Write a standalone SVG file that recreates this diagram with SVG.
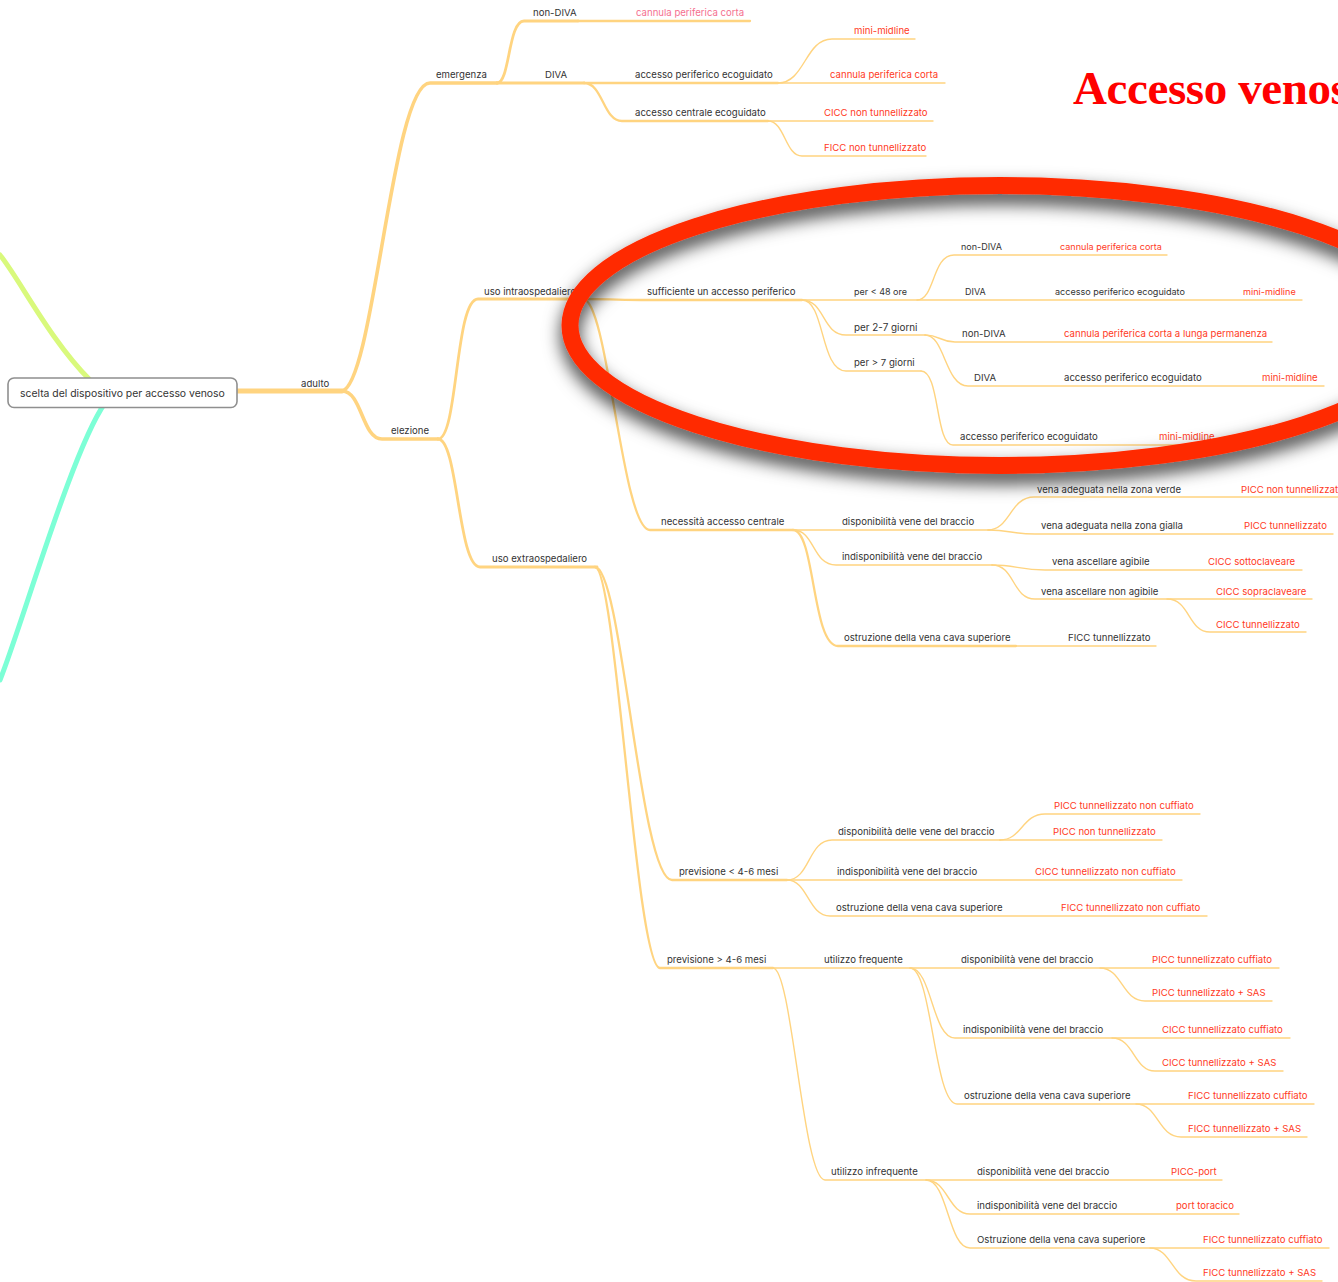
<svg xmlns="http://www.w3.org/2000/svg" width="1338" height="1282" viewBox="0 0 1338 1282">
<defs>
<style>
text{font-family:"Inter","Liberation Sans",sans-serif;font-size:9.6px;fill:#333;dominant-baseline:central;transform:translateY(-.8px)}
.r text,text.r{fill:#ff3a1e}
.c path{fill:none;stroke:#ffd480;stroke-linecap:round}
.w5{stroke-width:5}.w4{stroke-width:3.6}.w3{stroke-width:2.8}.w2{stroke-width:2.3}.w1{stroke-width:1.4}
</style>
<filter id="shadow" x="-10%" y="-20%" width="120%" height="140%"><feDropShadow dx="0" dy="9" stdDeviation="9" flood-color="#000" flood-opacity="0.8"/></filter>
</defs>
<g id="connectors" class="c">
<path d="M0 255C20 280 50 340 90 380" style="stroke:#d9f97c;stroke-width:5"/>
<path d="M105 403C72 450 22 625 0 680" style="stroke:#7dffd6;stroke-width:5"/>
<path class="w5" d="M237 391H342"/>
<path class="w4" d="M342 391C374 385 392 83 430 83H497"/>
<path class="w4" d="M342 391C362 391 362 439 382 439H438"/>
<path class="w3" d="M438 439C458 439 455 299 478 299H583"/>
<path class="w3" d="M438 439C458 439 458 567 480 567H597"/>
<path class="w3" d="M497 83C510 83 508 21 524 21H578"/>
<path class="w2" d="M578 21H750"/>
<path class="w3" d="M497 83H584"/>
<path class="w2" d="M584 83H778"/>
<path class="w1" d="M778 83C805 83 805 39 832 39H915"/>
<path class="w1" d="M778 83H945"/>
<path class="w2" d="M584 83C603 83 603 121 622 121H768"/>
<path class="w1" d="M768 121H933"/>
<path class="w1" d="M768 121C785 121 785 156 802 156H926"/>
<path class="w2" d="M583 299C610 299 610 300 641 300H802"/>
<path class="w1" d="M802 300H1302"/>
<path class="w1" d="M917 300C935 300 932 255 954 255H1167"/>
<path class="w1" d="M802 300C825 300 822 335 846 335H925"/>
<path class="w1" d="M925 335C940 335 940 342 955 342H1272"/>
<path class="w1" d="M925 335C945 335 945 386 968 386H1324"/>
<path class="w1" d="M802 300C825 300 820 371 846 371H921"/>
<path class="w1" d="M921 371C940 371 935 445 953 445H1220"/>
<path class="w2" d="M583 299C608 299 622 530 650 530H793"/>
<path class="w1" d="M793 530H990"/>
<path class="w1" d="M988 530C1010 530 1010 497 1034 497H1338"/>
<path class="w1" d="M988 530C1010 530 1012 534 1035 534H1333"/>
<path class="w1" d="M793 530C815 530 812 565 836 565H992"/>
<path class="w1" d="M992 565C1015 565 1020 570 1045 570H1302"/>
<path class="w1" d="M992 565C1015 565 1012 599 1035 599H1312"/>
<path class="w1" d="M1167 599C1190 599 1188 632 1210 632H1306"/>
<path class="w2" d="M793 530C815 530 812 646 838 646H1016"/>
<path class="w1" d="M1016 646H1156"/>
<path class="w2" d="M595 567C622 567 640 880 672 880H787"/>
<path class="w2" d="M595 567C616 567 636 968 660 968H773"/>
<path class="w1" d="M787 880C810 880 808 840 832 840H1000"/>
<path class="w1" d="M1000 840C1022 840 1022 814 1045 814H1200"/>
<path class="w1" d="M1000 840H1162"/>
<path class="w1" d="M787 880H1182"/>
<path class="w1" d="M787 880C808 880 808 916 830 916H1207"/>
<path class="w1" d="M773 968H1279"/>
<path class="w1" d="M1100 968C1122 968 1122 1001 1145 1001H1272"/>
<path class="w1" d="M910 968C932 968 932 1038 955 1038H1290"/>
<path class="w1" d="M1112 1038C1134 1038 1134 1071 1155 1071H1283"/>
<path class="w1" d="M910 968C932 968 934 1104 957 1104H1314"/>
<path class="w1" d="M1136 1104C1158 1104 1158 1137 1181 1137H1307"/>
<path class="w1" d="M773 968C792 968 803 1180 825 1180H1222"/>
<path class="w1" d="M926 1180C948 1180 948 1214 970 1214H1239"/>
<path class="w1" d="M926 1180C948 1180 948 1248 970 1248H1329"/>
<path class="w1" d="M1150 1248C1172 1248 1172 1281 1196 1281H1322"/>
</g>
<g id="root"><rect x="8" y="378" width="229" height="29.500" rx="6" fill="#fff" stroke="#8f8f8f" stroke-width="1.600"/><text x="20" y="394.800" style="font-size:10.4px">scelta del dispositivo per accesso venoso</text></g>
<g id="n1"><text x="301" y="384">adulto</text></g>
<g id="n2"><text x="391" y="431">elezione</text></g>
<g id="n3"><text x="436" y="75">emergenza</text></g>
<g id="n4"><text x="533" y="13">non-DIVA</text></g>
<g id="n5"><text x="636" y="13" style="fill:#f56f8f">cannula periferica corta</text></g>
<g id="n6"><text x="545" y="75">DIVA</text></g>
<g id="n7"><text x="635" y="75">accesso periferico ecoguidato</text></g>
<g id="n8"><text class="r" x="854" y="31">mini-midline</text></g>
<g id="n9"><text class="r" x="830" y="75">cannula periferica corta</text></g>
<g id="n10"><text x="635" y="113">accesso centrale ecoguidato</text></g>
<g id="n11"><text class="r" x="824" y="113">CICC non tunnellizzato</text></g>
<g id="n12"><text class="r" x="824" y="148">FICC non tunnellizzato</text></g>
<g id="n13"><text x="484" y="292">uso intraospedaliero</text></g>
<g id="n14"><text x="647" y="292">sufficiente un accesso periferico</text></g>
<g id="n15"><text x="854" y="292" style="font-size:9px">per &lt; 48 ore</text></g>
<g id="n16"><text x="854" y="328" style="font-size:9.9px">per 2-7 giorni</text></g>
<g id="n17"><text x="854" y="363">per &gt; 7 giorni</text></g>
<g id="n18"><text x="961" y="247" style="font-size:9px">non-DIVA</text></g>
<g id="n19"><text class="r" x="1060" y="247" style="font-size:9.05px">cannula periferica corta</text></g>
<g id="n20"><text x="965" y="292" style="font-size:9px">DIVA</text></g>
<g id="n21"><text x="1055" y="292" style="font-size:9.05px">accesso periferico ecoguidato</text></g>
<g id="n22"><text class="r" x="1243" y="292" style="font-size:9.1px">mini-midline</text></g>
<g id="n23"><text x="962" y="334">non-DIVA</text></g>
<g id="n24"><text class="r" x="1064" y="334">cannula periferica corta a lunga permanenza</text></g>
<g id="n25"><text x="974" y="378">DIVA</text></g>
<g id="n26"><text x="1064" y="378">accesso periferico ecoguidato</text></g>
<g id="n27"><text class="r" x="1262" y="378">mini-midline</text></g>
<g id="n28"><text x="960" y="437">accesso periferico ecoguidato</text></g>
<g id="n29"><text class="r" x="1159" y="437">mini-midline</text></g>
<g id="n30"><text x="661" y="522">necessità accesso centrale</text></g>
<g id="n31"><text x="842" y="522">disponibilità vene del braccio</text></g>
<g id="n32"><text x="1037" y="490">vena adeguata nella zona verde</text></g>
<g id="n33"><text class="r" x="1241" y="490">PICC non tunnellizzato</text></g>
<g id="n34"><text x="1041" y="526">vena adeguata nella zona gialla</text></g>
<g id="n35"><text class="r" x="1244" y="526">PICC tunnellizzato</text></g>
<g id="n36"><text x="842" y="557">indisponibilità vene del braccio</text></g>
<g id="n37"><text x="1052" y="562">vena ascellare agibile</text></g>
<g id="n38"><text class="r" x="1208" y="562">CICC sottoclaveare</text></g>
<g id="n39"><text x="1041" y="592">vena ascellare non agibile</text></g>
<g id="n40"><text class="r" x="1216" y="592">CICC sopraclaveare</text></g>
<g id="n41"><text class="r" x="1216" y="625">CICC tunnellizzato</text></g>
<g id="n42"><text x="844" y="638">ostruzione della vena cava superiore</text></g>
<g id="n43"><text x="1068" y="638">FICC tunnellizzato</text></g>
<g id="n44"><text x="492" y="559">uso extraospedaliero</text></g>
<g id="n45"><text x="679" y="872">previsione &lt; 4-6 mesi</text></g>
<g id="n46"><text x="838" y="832">disponibilità delle vene del braccio</text></g>
<g id="n47"><text class="r" x="1054" y="806">PICC tunnellizzato non cuffiato</text></g>
<g id="n48"><text class="r" x="1053" y="832">PICC non tunnellizzato</text></g>
<g id="n49"><text x="837" y="872">indisponibilità vene del braccio</text></g>
<g id="n50"><text class="r" x="1035" y="872">CICC tunnellizzato non cuffiato</text></g>
<g id="n51"><text x="836" y="908">ostruzione della vena cava superiore</text></g>
<g id="n52"><text class="r" x="1061" y="908">FICC tunnellizzato non cuffiato</text></g>
<g id="n53"><text x="667" y="960">previsione &gt; 4-6 mesi</text></g>
<g id="n54"><text x="824" y="960">utilizzo frequente</text></g>
<g id="n55"><text x="961" y="960">disponibilità vene del braccio</text></g>
<g id="n56"><text class="r" x="1152" y="960">PICC tunnellizzato cuffiato</text></g>
<g id="n57"><text class="r" x="1152" y="993">PICC tunnellizzato + SAS</text></g>
<g id="n58"><text x="963" y="1030">indisponibilità vene del braccio</text></g>
<g id="n59"><text class="r" x="1162" y="1030">CICC tunnellizzato cuffiato</text></g>
<g id="n60"><text class="r" x="1162" y="1063">CICC tunnellizzato + SAS</text></g>
<g id="n61"><text x="964" y="1096">ostruzione della vena cava superiore</text></g>
<g id="n62"><text class="r" x="1188" y="1096">FICC tunnellizzato cuffiato</text></g>
<g id="n63"><text class="r" x="1188" y="1129">FICC tunnellizzato + SAS</text></g>
<g id="n64"><text x="831" y="1172">utilizzo infrequente</text></g>
<g id="n65"><text x="977" y="1172">disponibilità vene del braccio</text></g>
<g id="n66"><text class="r" x="1171" y="1172">PICC-port</text></g>
<g id="n67"><text x="977" y="1206">indisponibilità vene del braccio</text></g>
<g id="n68"><text class="r" x="1176" y="1206">port toracico</text></g>
<g id="n69"><text x="977" y="1240">Ostruzione della vena cava superiore</text></g>
<g id="n70"><text class="r" x="1203" y="1240">FICC tunnellizzato cuffiato</text></g>
<g id="n71"><text class="r" x="1203" y="1273">FICC tunnellizzato + SAS</text></g>
<g id="highlight"><ellipse cx="1000" cy="325.500" rx="430" ry="140" fill="none" stroke="#ff2a00" stroke-width="17" filter="url(#shadow)"/></g>
<g id="title"><text x="1073" y="104" style="font-family:'Liberation Serif',serif;font-size:47px;font-weight:bold;letter-spacing:-.4px;fill:#ff0000;dominant-baseline:auto;transform:none">Accesso venoso</text></g>
</svg>
